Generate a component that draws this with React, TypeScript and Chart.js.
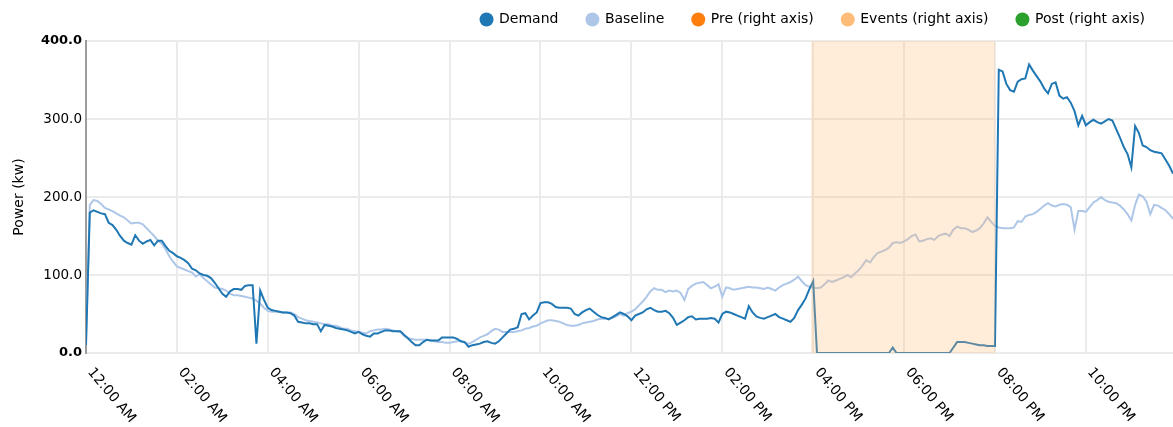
import React, { useEffect, useRef } from 'react';
import { Chart, registerables } from 'chart.js';

Chart.register(...registerables);

// ---- data: 5-minute readings over one day ----
const STEP_MINUTES = 5;

const DEMAND_00_06 = [
  10, 180, 183, 181, 179, 178, 167, 164, 158, 150,
  144, 141, 139, 151, 144, 140, 143, 145, 138, 144,
  144, 137, 131, 128, 124, 122, 119, 115, 108, 106,
  102, 100, 99, 96, 90, 83, 76, 72, 79, 82,
  82, 81, 86, 87, 87, 12, 80, 68, 58, 55,
  54, 53, 52, 52, 51, 48, 40, 39, 38, 38,
  37, 37, 28, 36, 35, 34, 32, 31, 30, 29,
  27, 25,
];
const DEMAND_06_12 = [
  27, 24, 22, 21, 25, 25, 27, 29, 29, 28,
  28, 28, 23, 19, 14, 10, 10, 14, 17, 16,
  16, 16, 20, 20, 20, 20, 18, 15, 14, 8,
  10, 11, 12, 14, 15, 13, 12, 15, 20, 25,
  30, 31, 33, 50, 51, 43, 48, 52, 64, 65,
  65, 63, 59, 58, 58, 58, 57, 50, 48, 52,
  55, 57, 53, 49, 46, 45, 43, 46, 49, 52,
  50, 47,
];
const DEMAND_12_18 = [
  42, 48, 50, 52, 56, 58, 55, 53, 53, 54,
  51, 45, 36, 39, 42, 46, 47, 43, 44, 44,
  44, 45, 44, 39, 50, 53, 52, 50, 48, 46,
  44, 60, 52, 47, 45, 44, 46, 48, 50, 46,
  44, 42, 40, 45, 55, 62, 70, 82, 92, 0,
  0, 0, 0, 0, 0, 0, 0, 0, 0, 0,
  0, 0, 0, 0, 0, 0, 0, 0, 0, 7,
  0, 0,
];
const DEMAND_18_24 = [
  0, 0, 0, 0, 0, 0, 0, 0, 0, 0,
  0, 0, 0, 7, 14, 14, 14, 13, 12, 11,
  10, 10, 9, 9, 9, 363, 361, 345, 337, 335,
  348, 351, 352, 370, 362, 355, 348, 339, 333, 345,
  347, 330, 326, 328, 321, 310, 292, 304, 292, 296,
  299, 296, 294, 297, 300, 298, 287, 276, 264, 255,
  238, 291, 282, 266, 264, 260, 258, 257, 256, 248,
  240, 230,
];

const BASELINE_00_06 = [
  15, 190, 196, 195, 191, 186, 184, 182, 179, 176,
  174, 170, 166, 167, 167, 165, 160, 155, 150, 144,
  140, 133, 124, 117, 111, 109, 107, 105, 103, 98,
  101, 96, 92, 88, 84, 83, 82, 80, 76, 74,
  74, 73, 72, 71, 70, 67, 63, 58, 54, 53,
  53, 53, 52, 52, 52, 50, 46, 44, 42, 41,
  40, 39, 38, 37, 37, 35, 35, 33, 31, 31,
  29, 28,
];
const BASELINE_06_12 = [
  27, 26, 25, 28, 29, 30, 30, 31, 30, 29,
  28, 27, 22, 19, 18, 17, 17, 17, 17, 16,
  15, 14, 14, 13, 13, 14, 15, 15, 13, 12,
  14, 17, 20, 22, 24, 28, 31, 30, 27, 27,
  27, 27, 28, 29, 31, 32, 34, 35, 38, 40,
  42, 42, 41, 40, 38, 36, 35, 35, 36, 38,
  39, 40, 41, 43, 44, 44, 44, 45, 47, 50,
  48, 51,
];
const BASELINE_12_18 = [
  53, 56, 61, 66, 72, 79, 83, 81, 81, 78,
  80, 79, 80, 77, 68, 82, 86, 89, 90, 91,
  87, 83, 85, 88, 72, 84, 83, 81, 82, 83,
  84, 85, 84, 84, 83, 82, 84, 82, 80, 84,
  87, 89, 91, 94, 98, 92, 87, 85, 84, 83,
  84, 88, 93, 91, 93, 95, 97, 100, 97, 102,
  106, 112, 119, 116, 123, 128, 130, 132, 135, 141,
  142, 141,
];
const BASELINE_18_24 = [
  143, 146, 150, 152, 143, 144, 146, 147, 145, 150,
  152, 153, 150, 158, 162, 160, 160, 158, 155, 157,
  160, 166, 174, 168, 163, 161, 160, 160, 160, 161,
  169, 168, 175, 177, 178, 181, 185, 189, 192, 189,
  188, 190, 191, 190, 187, 158, 182, 182, 181, 187,
  193, 196, 200, 196, 194, 193, 192, 189, 184, 178,
  170, 190, 203, 201, 194, 178, 190, 189, 186, 183,
  178, 172,
];

// event window (hours of day) drawn on the hidden right axis
const EVENT_TIMES = [15.95, 15.96, 20.0, 20.01];
const EVENT_LEVELS = [0, 1, 1, 0];

const SERIES_NAMES = ['Demand', 'Baseline', 'Pre (right axis)', 'Events (right axis)', 'Post (right axis)'];
const SERIES_COLORS = ['#1f77b4', '#aec7e8', '#ff7f0e', '#ffbb78', '#2ca02c'];

const X_TICK_HOURS = [0, 2, 4, 6, 8, 10, 12, 14, 16, 18, 20, 22];
const X_TICK_LABELS = [
  '12:00 AM', '02:00 AM', '04:00 AM', '06:00 AM', '08:00 AM', '10:00 AM',
  '12:00 PM', '02:00 PM', '04:00 PM', '06:00 PM', '08:00 PM', '10:00 PM',
];
const Y_TICKS = [0, 100, 200, 300, 400];
const Y_TITLE = 'Power (kw)';

const DEMAND = [...DEMAND_00_06, ...DEMAND_06_12, ...DEMAND_12_18, ...DEMAND_18_24];
const BASELINE = [...BASELINE_00_06, ...BASELINE_06_12, ...BASELINE_12_18, ...BASELINE_18_24];
const TIMES = DEMAND.map((_, i) => (i * STEP_MINUTES) / 60);

const FONT = "'DejaVu Sans', sans-serif";

const legendPlugin = {
  id: 'nvLegend',
  afterDraw(chart: any) {
    const ctx = chart.ctx;
    ctx.save();
    ctx.font = `14px ${FONT}`;
    ctx.textBaseline = 'middle';
    ctx.textAlign = 'left';
    const cy = 19.5;
    const r = 7;
    const textGap = 12.5;
    const itemGap = 34;
    let cursor = 1145;
    for (let i = SERIES_NAMES.length - 1; i >= 0; i--) {
      const w = ctx.measureText(SERIES_NAMES[i]).width;
      const textStart = cursor - w;
      const cx = textStart - textGap;
      ctx.fillStyle = '#000';
      ctx.fillText(SERIES_NAMES[i], textStart, cy);
      ctx.beginPath();
      ctx.arc(cx, cy, r, 0, Math.PI * 2);
      ctx.fillStyle = SERIES_COLORS[i];
      ctx.fill();
      cursor = cx - itemGap;
    }
    ctx.restore();
  },
};

const xLabelPlugin = {
  id: 'rotatedXLabels',
  afterDraw(chart: any) {
    const ctx = chart.ctx;
    const xs = chart.scales.x;
    const base = chart.chartArea.bottom;
    ctx.save();
    ctx.font = `14px ${FONT}`;
    ctx.fillStyle = '#000';
    ctx.textAlign = 'left';
    ctx.textBaseline = 'middle';
    X_TICK_HOURS.forEach((h, k) => {
      const px = xs.getPixelForValue(h);
      ctx.save();
      ctx.translate(px + 4, base + 17);
      ctx.rotate((50 * Math.PI) / 180);
      ctx.fillText(X_TICK_LABELS[k], 0, 0);
      ctx.restore();
    });
    ctx.restore();
  },
};

export default function App() {
  const ref = useRef<HTMLCanvasElement | null>(null);

  useEffect(() => {
    if (!ref.current) return;
    const chart = new Chart(ref.current, {
      type: 'line',
      data: {
        datasets: [
          {
            label: SERIES_NAMES[3],
            data: EVENT_TIMES.map((x, i) => ({ x, y: EVENT_LEVELS[i] })),
            yAxisID: 'y1',
            order: -1,
            fill: 'origin',
            backgroundColor: 'rgba(255,187,120,0.28)',
            borderWidth: 0,
            borderColor: 'rgba(0,0,0,0)',
            pointRadius: 0,
          },
          {
            label: SERIES_NAMES[0],
            data: TIMES.map((x, i) => ({ x, y: DEMAND[i] })),
            yAxisID: 'y',
            order: 0,
            borderColor: SERIES_COLORS[0],
            borderWidth: 2,
            pointRadius: 0,
            fill: false,
          },
          {
            label: SERIES_NAMES[1],
            data: TIMES.map((x, i) => ({ x, y: BASELINE[i] })),
            yAxisID: 'y',
            order: 1,
            borderColor: SERIES_COLORS[1],
            borderWidth: 2,
            pointRadius: 0,
            fill: false,
          },
          {
            label: SERIES_NAMES[2],
            data: [],
            yAxisID: 'y1',
            order: 2,
            borderColor: SERIES_COLORS[2],
            pointRadius: 0,
          },
          {
            label: SERIES_NAMES[4],
            data: [],
            yAxisID: 'y1',
            order: 3,
            borderColor: SERIES_COLORS[4],
            pointRadius: 0,
          },
        ],
      },
      options: {
        animation: false,
        responsive: false,
        devicePixelRatio: 1,
        layout: { padding: { top: 41, left: 0, right: 0, bottom: 0 } },
        plugins: {
          legend: { display: false },
          tooltip: { enabled: false },
        },
        scales: {
          x: {
            type: 'linear',
            min: 0,
            max: TIMES[TIMES.length - 1],
            afterBuildTicks: (s: any) => {
              s.ticks = X_TICK_HOURS.map((v) => ({ value: v }));
            },
            ticks: { display: false },
            grid: { color: '#ebebeb', lineWidth: 2, drawTicks: false },
            border: { display: false },
            afterFit: (s: any) => {
              s.height = 74;
            },
          },
          y: {
            type: 'linear',
            min: 0,
            max: 400,
            afterBuildTicks: (s: any) => {
              s.ticks = Y_TICKS.map((v) => ({ value: v }));
            },
            ticks: {
              padding: 4,
              color: '#000',
              callback: (v: any) => Number(v).toFixed(1),
              font: (c: any) => {
                const v = c && c.tick ? c.tick.value : null;
                const edge = v === Y_TICKS[0] || v === Y_TICKS[Y_TICKS.length - 1];
                return { family: FONT, size: edge ? 13 : 13.5, weight: edge ? 'bold' : 'normal' };
              },
            },
            grid: { color: '#ebebeb', lineWidth: 2, drawTicks: false },
            border: { display: true, color: '#9c9c9c', width: 2 },
            title: {
              display: true,
              text: Y_TITLE,
              color: '#000',
              font: { family: FONT, size: 14 },
              padding: { top: 10.6, bottom: 0 },
            },
            afterFit: (s: any) => {
              s.width = 86;
            },
          },
          y1: {
            type: 'linear',
            display: false,
            position: 'right',
            min: 0,
            max: 1,
          },
        },
      } as any,
      plugins: [legendPlugin, xLabelPlugin],
    });
    return () => chart.destroy();
  }, []);

  return (
    <div style={{ position: 'absolute', left: 0, top: 0, width: 1173, height: 427, background: '#fff' }}>
      <canvas ref={ref} width={1173} height={427} style={{ display: 'block', width: 1173, height: 427 }} />
    </div>
  );
}
